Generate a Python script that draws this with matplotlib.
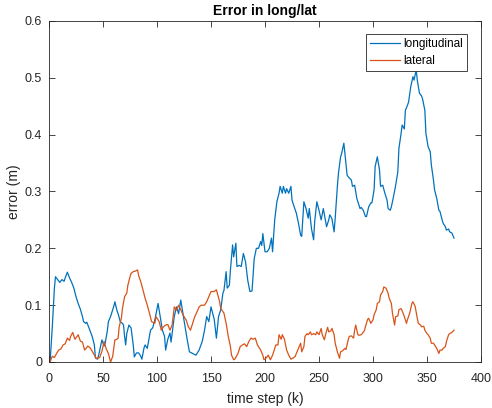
import matplotlib
matplotlib.use("Agg")
import matplotlib.pyplot as plt
from matplotlib.ticker import FormatStrFormatter

plt.rcParams['font.family'] = ['Liberation Sans', 'DejaVu Sans']

# longitudinal error (time step, value)
long_k = [0, 1, 3, 5, 6, 8, 10, 12, 14, 15, 17, 19, 21, 23, 25, 27, 29, 31, 32, 34,
          35, 37, 40, 42, 43, 45, 46, 48, 49, 51, 52, 54, 55, 57, 58, 60, 61, 63, 64, 66,
          68, 69, 70, 71, 72, 74, 76, 78, 79, 81, 83, 85, 86, 88, 89, 91, 93, 94, 96, 98,
          101, 103, 105, 107, 108, 110, 112, 113, 116, 118, 120, 122, 124, 126, 128, 130, 133, 136, 139, 142,
          144, 146, 148, 150, 153, 155, 157, 159, 161, 162, 164, 165, 167, 168, 170, 171, 173, 174, 176, 178,
          180, 182, 184, 186, 188, 190, 192, 194, 196, 197, 198, 200, 202, 204, 206, 207, 209, 211, 213, 214,
          216, 217, 219, 220, 222, 224, 225, 227, 229, 231, 233, 234, 236, 238, 240, 241, 243, 245, 246, 248,
          250, 252, 254, 255, 257, 259, 260, 262, 264, 265, 267, 268, 270, 271, 273, 274, 276, 277, 280, 281,
          283, 285, 286, 288, 289, 291, 293, 294, 296, 298, 299, 301, 302, 304, 306, 307, 309, 311, 313, 314,
          316, 317, 319, 321, 323, 324, 326, 327, 329, 330, 332, 333, 335, 337, 338, 340, 341, 343, 345, 346,
          348, 349, 351, 353, 354, 356, 357, 359, 361, 362, 364, 365, 367, 368, 370, 371, 373, 375]
long_v = [0.0, 0.0, 0.06, 0.13, 0.15, 0.145, 0.14, 0.145, 0.142, 0.148, 0.158, 0.148, 0.14, 0.13, 0.115, 0.103, 0.093, 0.08, 0.071, 0.068,
          0.07, 0.06, 0.045, 0.03, 0.007, 0.005, 0.012, 0.03, 0.039, 0.028, 0.033, 0.055, 0.071, 0.08, 0.086, 0.098, 0.106, 0.09, 0.085, 0.071,
          0.068, 0.065, 0.045, 0.03, 0.05, 0.065, 0.06, 0.03, 0.009, 0.016, 0.016, 0.01, 0.005, 0.025, 0.03, 0.024, 0.045, 0.056, 0.06, 0.074,
          0.103, 0.08, 0.056, 0.045, 0.021, 0.04, 0.051, 0.035, 0.08, 0.097, 0.085, 0.109, 0.085, 0.062, 0.039, 0.018, 0.015, 0.012, 0.021, 0.037,
          0.056, 0.08, 0.071, 0.097, 0.075, 0.042, 0.08, 0.092, 0.121, 0.126, 0.159, 0.13, 0.135, 0.162, 0.206, 0.185, 0.209, 0.168, 0.17, 0.168,
          0.191, 0.176, 0.144, 0.124, 0.125, 0.182, 0.2, 0.2, 0.212, 0.205, 0.226, 0.194, 0.194, 0.2, 0.218, 0.194, 0.25, 0.282, 0.297, 0.309,
          0.297, 0.309, 0.297, 0.305, 0.297, 0.309, 0.285, 0.273, 0.262, 0.244, 0.223, 0.221, 0.282, 0.27, 0.253, 0.27, 0.235, 0.215, 0.247, 0.282,
          0.267, 0.25, 0.27, 0.259, 0.238, 0.25, 0.259, 0.252, 0.229, 0.253, 0.309, 0.332, 0.361, 0.367, 0.385, 0.367, 0.329, 0.326, 0.32, 0.309,
          0.311, 0.288, 0.282, 0.27, 0.272, 0.267, 0.256, 0.256, 0.273, 0.28, 0.28, 0.303, 0.344, 0.361, 0.338, 0.309, 0.311, 0.297, 0.285, 0.27,
          0.267, 0.273, 0.291, 0.311, 0.335, 0.376, 0.402, 0.417, 0.41, 0.443, 0.452, 0.458, 0.485, 0.502, 0.496, 0.514, 0.496, 0.473, 0.468, 0.462,
          0.443, 0.402, 0.379, 0.37, 0.347, 0.32, 0.303, 0.288, 0.267, 0.265, 0.25, 0.244, 0.238, 0.232, 0.234, 0.229, 0.227, 0.218]

# lateral error
lat_k = [0, 1, 3, 5, 7, 9, 11, 13, 15, 17, 19, 20, 22, 24, 26, 27, 29, 31, 33, 36,
         38, 40, 42, 44, 47, 49, 51, 53, 55, 57, 59, 61, 62, 64, 65, 67, 68, 70, 72, 73,
         75, 76, 78, 80, 82, 83, 85, 87, 89, 91, 93, 95, 98, 99, 102, 104, 106, 108, 110, 112,
         114, 116, 118, 120, 122, 124, 127, 129, 131, 133, 135, 137, 139, 141, 144, 146, 148, 150, 153, 155,
         156, 158, 159, 162, 164, 166, 168, 169, 171, 172, 175, 177, 179, 181, 183, 185, 187, 189, 191, 193,
         196, 198, 199, 201, 203, 205, 207, 209, 210, 212, 213, 215, 216, 218, 220, 222, 224, 226, 228, 229,
         231, 233, 234, 236, 237, 239, 240, 242, 243, 245, 247, 248, 250, 252, 253, 255, 256, 258, 259, 261,
         262, 264, 265, 267, 269, 270, 272, 274, 275, 277, 278, 280, 282, 283, 284, 286, 287, 289, 290, 292,
         293, 295, 296, 298, 300, 301, 303, 304, 306, 307, 309, 310, 312, 314, 315, 317, 318, 320, 321, 323,
         324, 326, 327, 329, 331, 332, 334, 336, 337, 339, 341, 342, 344, 345, 347, 348, 350, 351, 353, 354,
         356, 358, 359, 361, 362, 364, 365, 367, 368, 370, 371, 373, 375]
lat_v = [0.0, 0.0, 0.01, 0.008, 0.015, 0.021, 0.023, 0.03, 0.032, 0.042, 0.038, 0.045, 0.052, 0.04, 0.045, 0.048, 0.037, 0.035, 0.021, 0.028,
         0.025, 0.019, 0.012, 0.006, 0.008, 0.019, 0.036, 0.023, 0.015, 0.0, 0.01, 0.039, 0.039, 0.042, 0.062, 0.077, 0.094, 0.115, 0.121, 0.135,
         0.15, 0.156, 0.159, 0.16, 0.162, 0.152, 0.141, 0.127, 0.112, 0.1, 0.086, 0.071, 0.068, 0.08, 0.071, 0.056, 0.062, 0.065, 0.066, 0.056,
         0.065, 0.097, 0.091, 0.1, 0.092, 0.083, 0.074, 0.062, 0.056, 0.068, 0.08, 0.088, 0.097, 0.1, 0.1, 0.106, 0.115, 0.124, 0.124, 0.127,
         0.12, 0.106, 0.094, 0.086, 0.068, 0.045, 0.027, 0.012, 0.004, 0.005, 0.015, 0.027, 0.03, 0.032, 0.027, 0.036, 0.042, 0.04, 0.042, 0.03,
         0.021, 0.012, 0.004, 0.007, 0.012, 0.004, 0.012, 0.024, 0.03, 0.03, 0.048, 0.04, 0.048, 0.04, 0.021, 0.012, 0.005, 0.007, 0.01, 0.015,
         0.024, 0.033, 0.018, 0.027, 0.045, 0.05, 0.048, 0.053, 0.048, 0.05, 0.048, 0.053, 0.048, 0.059, 0.048, 0.039, 0.048, 0.061, 0.053, 0.055,
         0.059, 0.048, 0.033, 0.018, 0.0065, 0.018, 0.02, 0.024, 0.022, 0.039, 0.045, 0.046, 0.042, 0.056, 0.065, 0.048, 0.047, 0.048, 0.05, 0.055,
         0.062, 0.075, 0.077, 0.068, 0.074, 0.083, 0.092, 0.103, 0.106, 0.118, 0.124, 0.132, 0.13, 0.121, 0.112, 0.103, 0.086, 0.065, 0.08, 0.081,
         0.092, 0.094, 0.09, 0.08, 0.068, 0.075, 0.086, 0.103, 0.106, 0.098, 0.077, 0.068, 0.065, 0.062, 0.063, 0.056, 0.05, 0.048, 0.042, 0.033,
         0.033, 0.027, 0.024, 0.015, 0.021, 0.021, 0.024, 0.027, 0.036, 0.048, 0.05, 0.052, 0.056]

fig = plt.figure(figsize=(4.92, 4.08), dpi=100)
ax = fig.add_axes([49 / 492, 1 - 362 / 408, 432 / 492, 341 / 408])

ax.plot(long_k, long_v, color='#0072BD', lw=0.9, label='longitudinal')
ax.plot(lat_k, lat_v, color='#D95319', lw=0.9, label='lateral')

ax.set_xlim(0, 400)
ax.set_ylim(0, 0.6)
ax.set_xticks(range(0, 401, 50))
ax.set_yticks([0, 0.1, 0.2, 0.3, 0.4, 0.5, 0.6])
ax.yaxis.set_major_formatter(FormatStrFormatter('%g'))
ax.tick_params(direction='in', top=True, right=True, length=4, width=0.6,
               labelsize=9, colors='#262626')
ax.tick_params(axis='x', pad=8)
ax.tick_params(axis='y', pad=5)
for s in ax.spines.values():
    s.set_color('#262626')
    s.set_linewidth(0.6)

ax.set_title('Error in long/lat', fontsize=10, fontweight='bold', pad=4)
ax.set_xlabel('time step (k)', fontsize=10, color='#262626', labelpad=5)
ax.set_ylabel('error (m)', fontsize=10, color='#262626', labelpad=3)

leg = ax.legend(loc='upper right', bbox_to_anchor=(467 / 492, 1 - 34 / 408),
                bbox_transform=fig.transFigure, borderaxespad=0,
                fontsize=8.5, fancybox=False, framealpha=1, edgecolor='#262626',
                borderpad=0.35, handlelength=2.5, handletextpad=0.3,
                labelspacing=0.4)
leg.get_frame().set_linewidth(0.6)

fig.savefig('out.png', dpi=100)
